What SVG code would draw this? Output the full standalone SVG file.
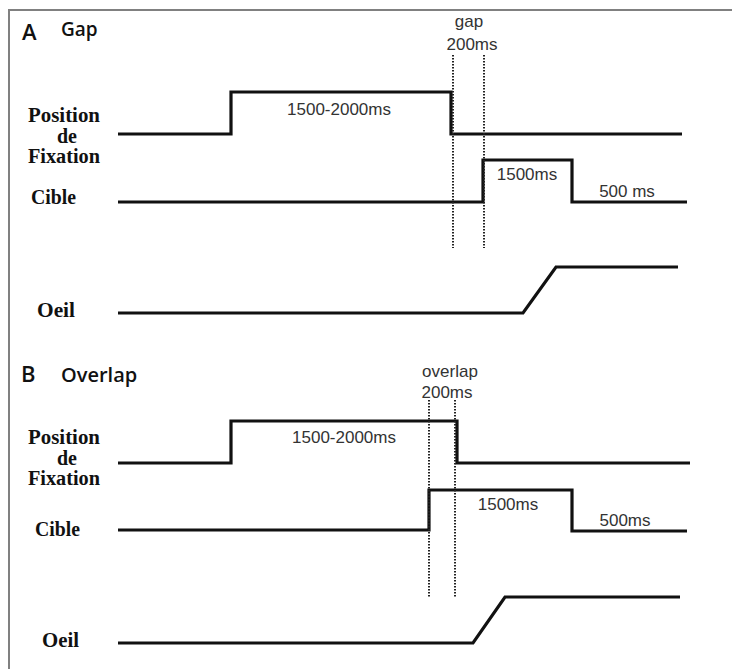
<svg xmlns="http://www.w3.org/2000/svg" width="732" height="669" viewBox="0 0 732 669">
<style>
.sig{fill:none;stroke:#111;stroke-width:3.2;stroke-linejoin:miter}
.dot{fill:none;stroke:#222;stroke-width:2;stroke-dasharray:1.6 1.4}
.lab{font-family:"Liberation Serif","Times New Roman",serif;font-weight:bold;font-size:20px;fill:#111}
.dur{font-family:"Liberation Sans",Arial,sans-serif;font-size:17px;fill:#333}
.ttl{font-family:"Open Sans","Liberation Sans",sans-serif;font-weight:600;fill:#111}
</style>
<rect x="0" y="0" width="732" height="669" fill="#fff"/>
<path d="M9,669 V10 H732" fill="none" stroke="#808080" stroke-width="2"/>

<g id="panelA">
  <text class="ttl" x="22" y="40" font-size="22">A</text>
  <text class="ttl" x="61" y="36" font-size="19">Gap</text>
  <g id="A-labels">
    <text class="lab" x="28" y="122" textLength="72" lengthAdjust="spacingAndGlyphs">Position</text>
    <text class="lab" x="57" y="143" textLength="20" lengthAdjust="spacingAndGlyphs">de</text>
    <text class="lab" x="28" y="163" textLength="72" lengthAdjust="spacingAndGlyphs">Fixation</text>
    <text class="lab" x="31" y="204" textLength="45" lengthAdjust="spacingAndGlyphs">Cible</text>
    <text class="lab" x="37" y="317" textLength="38" lengthAdjust="spacingAndGlyphs">Oeil</text>
  </g>
  <g id="A-signals">
    <path class="sig" d="M118,134 H231 V92 H451 V134 H682"/>
    <path class="sig" d="M118,202 H483 V160 H572 V202 H687"/>
    <path class="sig" d="M118,313 H523 L556,267 H678"/>
  </g>
  <g id="A-markers">
    <path class="dot" d="M453,55 V248 M484,55 V248"/>
  </g>
  <g id="A-texts">
    <text class="dur" x="469" y="27" text-anchor="middle">gap</text>
    <text class="dur" x="472" y="50" text-anchor="middle">200ms</text>
    <text class="dur" x="339" y="115" text-anchor="middle">1500-2000ms</text>
    <text class="dur" x="527" y="180" text-anchor="middle">1500ms</text>
    <text class="dur" x="627" y="197" text-anchor="middle">500 ms</text>
  </g>
</g>

<g id="panelB">
  <text class="ttl" x="21" y="382" font-size="22">B</text>
  <text class="ttl" x="61" y="382" font-size="20">Overlap</text>
  <g id="B-labels">
    <text class="lab" x="28" y="444" textLength="72" lengthAdjust="spacingAndGlyphs">Position</text>
    <text class="lab" x="57" y="465" textLength="20" lengthAdjust="spacingAndGlyphs">de</text>
    <text class="lab" x="28" y="485" textLength="72" lengthAdjust="spacingAndGlyphs">Fixation</text>
    <text class="lab" x="35" y="536" textLength="45" lengthAdjust="spacingAndGlyphs">Cible</text>
    <text class="lab" x="42" y="647" textLength="37" lengthAdjust="spacingAndGlyphs">Oeil</text>
  </g>
  <g id="B-signals">
    <path class="sig" d="M118,463 H231 V421 H457 V463 H690"/>
    <path class="sig" d="M118,530 H429 V490 H572 V531 H687"/>
    <path class="sig" d="M118,643 H473 L505,597 H680"/>
  </g>
  <g id="B-markers">
    <path class="dot" d="M429,400 V597 M455,400 V597"/>
  </g>
  <g id="B-texts">
    <text class="dur" x="450" y="377" text-anchor="middle">overlap</text>
    <text class="dur" x="447" y="398" text-anchor="middle">200ms</text>
    <text class="dur" x="344" y="443" text-anchor="middle">1500-2000ms</text>
    <text class="dur" x="508" y="510" text-anchor="middle">1500ms</text>
    <text class="dur" x="625" y="526" text-anchor="middle">500ms</text>
  </g>
</g>
</svg>
